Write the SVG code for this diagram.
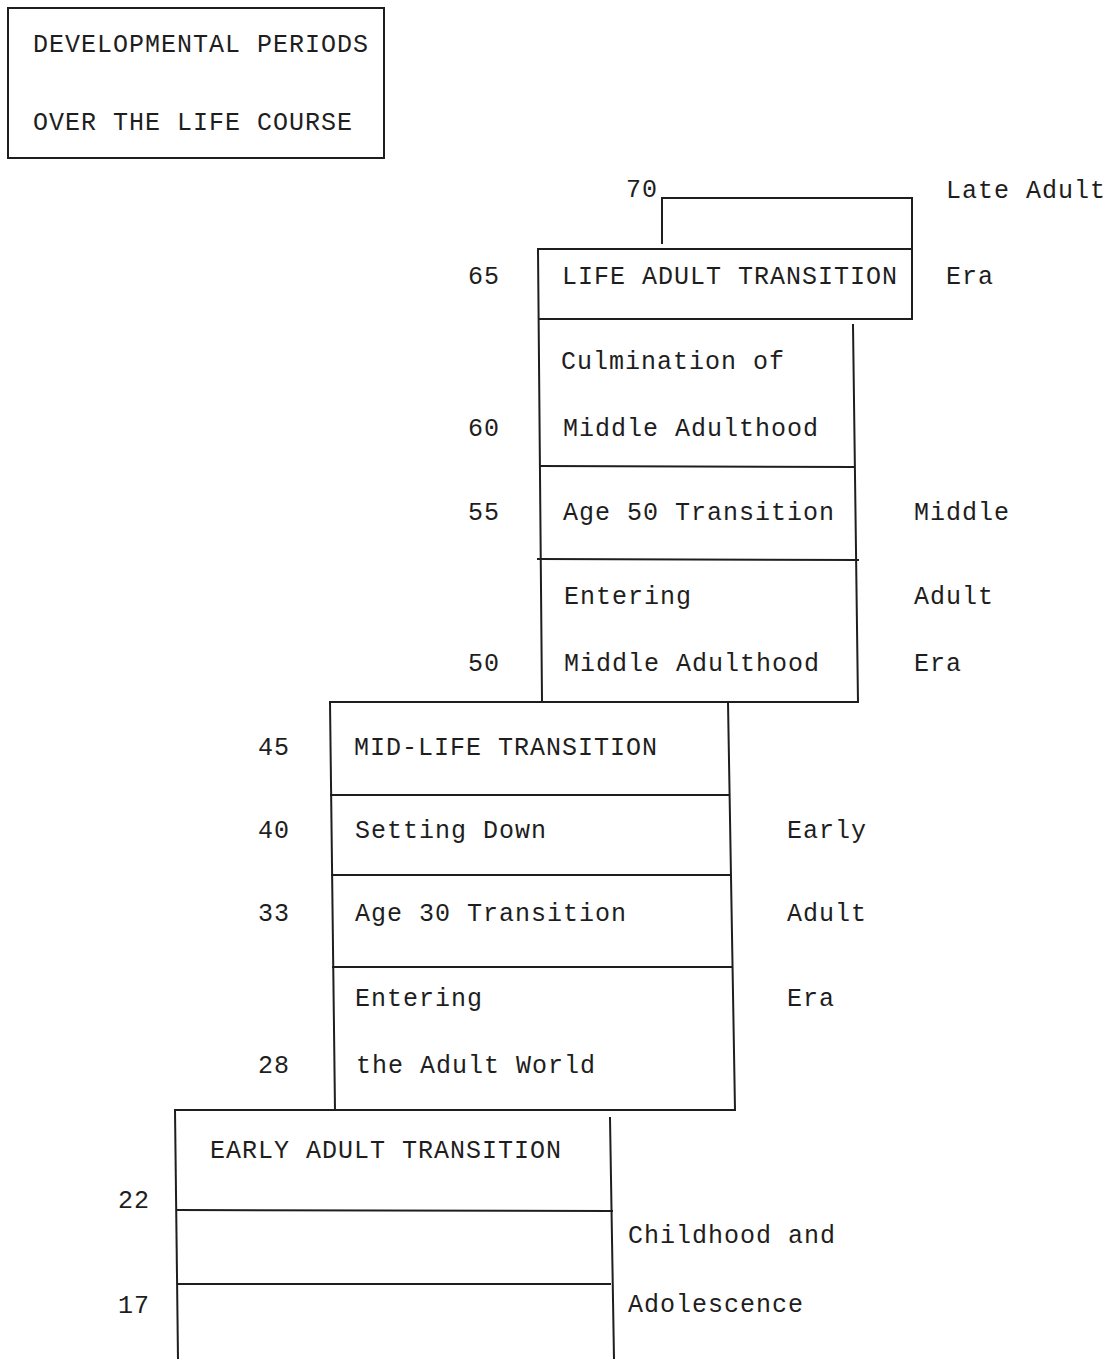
<svg xmlns="http://www.w3.org/2000/svg" width="1111" height="1359" viewBox="0 0 1111 1359">
<style>
text{font-family:"Liberation Mono","Courier New",monospace;font-size:25px;letter-spacing:1px;fill:#1e1e1e}
.ln{stroke:#1e1e1e;stroke-width:2;fill:none;stroke-linecap:square}
</style>
<rect width="1111" height="1359" fill="#fff"/>
<g id="title">
<rect class="ln" x="8" y="8" width="376" height="150"/>
<text x="33" y="52">DEVELOPMENTAL PERIODS</text>
<text x="33" y="130">OVER THE LIFE COURSE</text>
</g>
<g id="connectors">
<!-- late adult top -->
<polyline class="ln" points="662,243 662,198 912,198 912,319"/>
<!-- life adult transition -->
<line class="ln" x1="538" y1="249" x2="912" y2="249"/>
<line class="ln" x1="540" y1="319" x2="912" y2="319"/>
<!-- upper column -->
<line class="ln" x1="538" y1="249" x2="542" y2="700"/>
<line class="ln" x1="853" y1="325" x2="858" y2="702"/>
<line class="ln" x1="540" y1="466" x2="853" y2="467"/>
<line class="ln" x1="538" y1="559" x2="858" y2="560"/>
<line class="ln" x1="330" y1="702" x2="858" y2="702"/>
<!-- middle column -->
<line class="ln" x1="330" y1="702" x2="335" y2="1110"/>
<line class="ln" x1="728" y1="702" x2="735" y2="1110"/>
<line class="ln" x1="331" y1="795" x2="729" y2="795"/>
<line class="ln" x1="332" y1="875" x2="730" y2="875"/>
<line class="ln" x1="333" y1="967" x2="731" y2="967"/>
<line class="ln" x1="175" y1="1110" x2="735" y2="1110"/>
<!-- bottom column -->
<line class="ln" x1="175" y1="1110" x2="178" y2="1359"/>
<line class="ln" x1="610" y1="1118" x2="614" y2="1359"/>
<line class="ln" x1="177" y1="1210" x2="612" y2="1211"/>
<line class="ln" x1="178" y1="1284" x2="610" y2="1284"/>
</g>
<g id="late-adult">
<text x="626" y="197">70</text>
<text x="946" y="198">Late Adult</text>
<text x="946" y="284">Era</text>
</g>
<g id="life-adult-transition">
<text x="468" y="284">65</text>
<text x="562" y="284">LIFE ADULT TRANSITION</text>
</g>
<g id="culmination">
<text x="561" y="369">Culmination of</text>
<text x="563" y="436">Middle Adulthood</text>
<text x="468" y="436">60</text>
</g>
<g id="age50">
<text x="468" y="520">55</text>
<text x="563" y="520">Age 50 Transition</text>
</g>
<g id="entering-middle">
<text x="564" y="604">Entering</text>
<text x="564" y="671">Middle Adulthood</text>
<text x="468" y="671">50</text>
</g>
<g id="middle-era">
<text x="914" y="520">Middle</text>
<text x="914" y="604">Adult</text>
<text x="914" y="671">Era</text>
</g>
<g id="midlife">
<text x="258" y="755">45</text>
<text x="354" y="755">MID-LIFE TRANSITION</text>
</g>
<g id="settling">
<text x="258" y="838">40</text>
<text x="355" y="838">Setting Down</text>
</g>
<g id="age30">
<text x="258" y="921">33</text>
<text x="355" y="921">Age 30 Transition</text>
</g>
<g id="entering-adult">
<text x="355" y="1006">Entering</text>
<text x="356" y="1073">the Adult World</text>
<text x="258" y="1073">28</text>
</g>
<g id="early-era">
<text x="787" y="838">Early</text>
<text x="787" y="921">Adult</text>
<text x="787" y="1006">Era</text>
</g>
<g id="early-adult-transition">
<text x="210" y="1158">EARLY ADULT TRANSITION</text>
<text x="118" y="1208">22</text>
<text x="118" y="1313">17</text>
</g>
<g id="childhood">
<text x="628" y="1243">Childhood and</text>
<text x="628" y="1312">Adolescence</text>
</g>
</svg>
